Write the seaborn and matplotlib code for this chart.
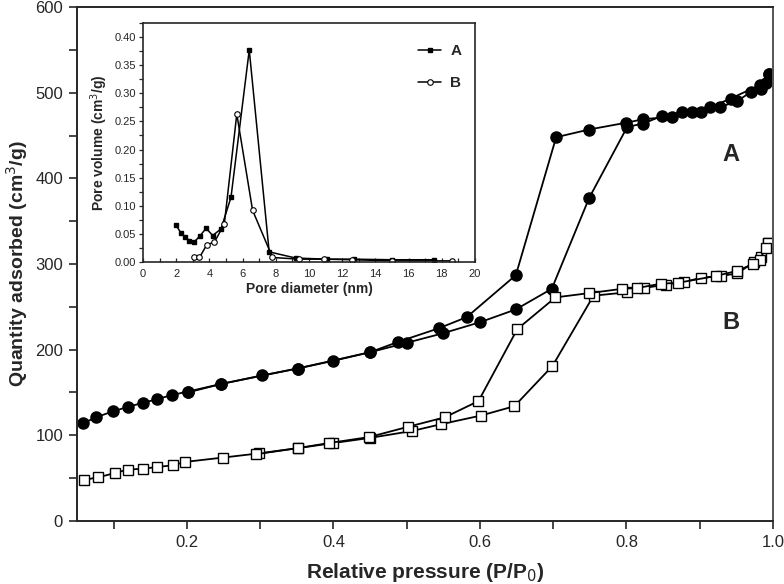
import matplotlib
matplotlib.use("Agg")
import matplotlib.pyplot as plt
import seaborn as sns
import pandas as pd
from matplotlib.ticker import MultipleLocator

# ---- main isotherm data ----
a_ads_x = [0.058, 0.076, 0.099, 0.119, 0.140, 0.159, 0.179, 0.201, 0.247, 0.303, 0.351, 0.400,
           0.450, 0.500, 0.549, 0.600, 0.649, 0.698, 0.749, 0.801, 0.823, 0.849, 0.876, 0.902,
           0.927, 0.951, 0.970, 0.983, 0.994]
a_ads_y = [114, 121, 128, 133, 138, 142, 147, 151, 160, 170, 178, 187,
           197, 208, 219, 232, 247, 271, 377, 460, 464, 473, 477, 477,
           483, 490, 501, 504, 522]
a_des_x = [0.994, 0.991, 0.982, 0.942, 0.914, 0.889, 0.862, 0.823, 0.800, 0.749, 0.704, 0.649,
           0.582, 0.544, 0.488, 0.450, 0.351, 0.247, 0.201]
a_des_y = [522, 511, 509, 493, 483, 478, 472, 469, 465, 457, 448, 287,
           238, 225, 209, 197, 178, 160, 150]

b_ads_x = [0.060, 0.079, 0.102, 0.119, 0.140, 0.159, 0.181, 0.198, 0.249, 0.299, 0.351, 0.400,
           0.450, 0.507, 0.547, 0.601, 0.647, 0.699, 0.755, 0.801, 0.824, 0.854, 0.879, 0.902,
           0.929, 0.951, 0.974, 0.983, 0.993]
b_ads_y = [48, 51, 56, 60, 61, 63, 65, 69, 74, 79, 85, 91,
           97, 105, 113, 123, 134, 181, 263, 267, 272, 276, 279, 284,
           286, 289, 302, 308, 324]
b_des_x = [0.993, 0.990, 0.982, 0.973, 0.951, 0.922, 0.870, 0.847, 0.815, 0.794, 0.749, 0.703,
           0.651, 0.598, 0.552, 0.502, 0.449, 0.394, 0.351, 0.295]
b_des_y = [324, 319, 305, 300, 292, 286, 278, 277, 272, 271, 266, 261,
           224, 140, 121, 110, 98, 91, 85, 78]

# ---- inset pore size distribution ----
pa_x = [2.0, 2.3, 2.55, 2.8, 3.1, 3.45, 3.8, 4.2, 4.7, 5.3, 6.4, 7.6, 9.2, 11.1, 12.7, 15.0, 17.5]
pa_y = [0.065, 0.051, 0.044, 0.038, 0.036, 0.047, 0.060, 0.047, 0.059, 0.115, 0.377, 0.018,
        0.007, 0.005, 0.005, 0.004, 0.004]
pb_x = [3.05, 3.4, 3.85, 4.3, 4.9, 5.65, 6.6, 7.8, 9.4, 10.9, 12.6, 15.0, 18.6]
pb_y = [0.008, 0.008, 0.031, 0.035, 0.068, 0.263, 0.092, 0.008, 0.005, 0.005, 0.004, 0.002, 0.002]

sns.set_theme(style="ticks")
plt.rcParams['font.family'] = ['Liberation Sans', 'DejaVu Sans']

fig = plt.figure(figsize=(7.84, 5.84), dpi=100)
ax = fig.add_axes([0.0982, 0.1079, 0.8878, 0.8801])

def branch(ax, xs, ys, marker, mfc, ms, lw=1.3):
    df = pd.DataFrame({"x": xs, "y": ys})
    sns.lineplot(data=df, x="x", y="y", ax=ax, sort=False, estimator=None,
                 color="black", linewidth=lw, marker=marker, markersize=ms,
                 markerfacecolor=mfc, markeredgecolor="black", markeredgewidth=1.0)

branch(ax, a_ads_x, a_ads_y, "o", "black", 8)
branch(ax, a_des_x, a_des_y, "o", "black", 8)
branch(ax, b_ads_x, b_ads_y, "s", "white", 7)
branch(ax, b_des_x, b_des_y, "s", "white", 7)

ax.set_xlim(0.05, 1.0)
ax.set_ylim(0, 600)
ax.xaxis.set_major_locator(MultipleLocator(0.2))
ax.xaxis.set_minor_locator(MultipleLocator(0.1))
ax.yaxis.set_major_locator(MultipleLocator(100))
ax.yaxis.set_minor_locator(MultipleLocator(50))
ax.set_xticks([0.2, 0.4, 0.6, 0.8, 1.0])
ax.set_xticklabels(["0.2", "0.4", "0.6", "0.8", "1.0"])
ax.tick_params(axis="both", which="major", direction="out", length=6, width=1.2,
               labelsize=12, pad=4)
ax.tick_params(axis="both", which="minor", direction="out", length=6, width=1.2)
for s in ax.spines.values():
    s.set_linewidth(1.4)
    s.set_visible(True)
ax.spines["right"].set_color("#555555")
ax.set_xlabel("Relative pressure (P/P$_0$)", fontsize=15, fontweight="bold", labelpad=8)
ax.set_ylabel("Quantity adsorbed (cm$^3$/g)", fontsize=14, fontweight="bold", labelpad=4)
ax.text(0.942, 428, "A", fontsize=17, fontweight="bold", ha="center", va="center")
ax.text(0.942, 232, "B", fontsize=17, fontweight="bold", ha="center", va="center")

# inset
ins = fig.add_axes([0.1824, 0.5514, 0.4235, 0.4092])
ins.plot(pa_x, pa_y, color="black", linewidth=1.1, marker="s", markersize=3.5,
         markerfacecolor="black", markeredgecolor="black", label="A")
ins.plot(pb_x, pb_y, color="black", linewidth=1.1, marker="o", markersize=4,
         markerfacecolor="white", markeredgecolor="black", markeredgewidth=0.8, label="B")
ins.set_xlim(0, 20)
ins.set_ylim(0, 0.425)
ins.xaxis.set_major_locator(MultipleLocator(2))
ins.xaxis.set_minor_locator(MultipleLocator(1))
ins.yaxis.set_major_locator(MultipleLocator(0.05))
ins.yaxis.set_minor_locator(MultipleLocator(0.025))
ins.set_yticks([0, 0.05, 0.10, 0.15, 0.20, 0.25, 0.30, 0.35, 0.40])
ins.set_yticklabels(["0.00", "0.05", "0.10", "0.15", "0.20", "0.25", "0.30", "0.35", "0.40"])
ins.tick_params(axis="x", which="both", direction="in", length=3, width=0.9, labelsize=8, pad=5)
ins.tick_params(axis="y", which="both", direction="out", length=3, width=0.9, labelsize=8, pad=2)
for s in ins.spines.values():
    s.set_linewidth(1.2)
    s.set_visible(True)
ins.set_xlabel("Pore diameter (nm)", fontsize=10, fontweight="bold", labelpad=2)
ins.set_ylabel("Pore volume (cm$^3$/g)", fontsize=10, fontweight="bold", labelpad=3)
leg = ins.legend(loc="upper right", frameon=False, fontsize=11, handlelength=1.5,
                 handletextpad=0.6, labelspacing=1.2, bbox_to_anchor=(1.0, 0.97))
for t in leg.get_texts():
    t.set_fontweight("bold")

fig.savefig("out.png", dpi=100)
